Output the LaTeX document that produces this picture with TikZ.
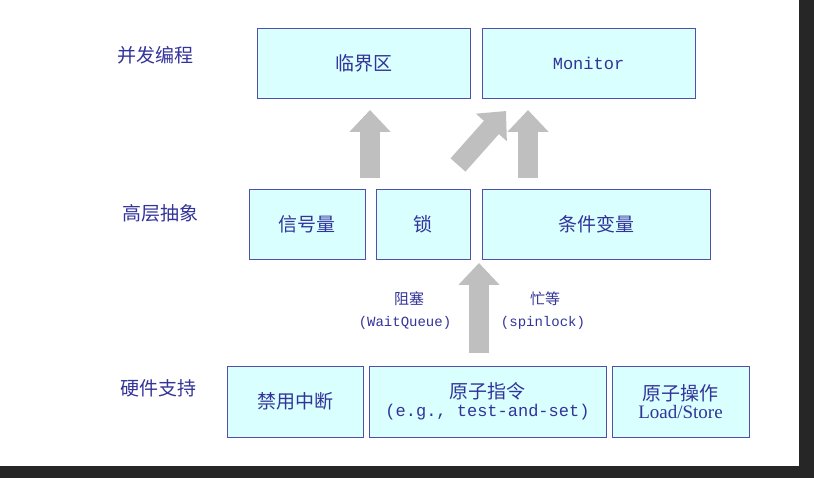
\documentclass[tikz,border=0pt]{standalone}
\usepackage{fontspec}
\setmainfont{Noto Sans CJK SC}
\newfontfamily\lat{Liberation Mono}
\newfontfamily\latser{Liberation Serif}
\usetikzlibrary{arrows.meta}
\definecolor{txt}{HTML}{33339A}
\definecolor{bfill}{HTML}{D9FFFF}
\definecolor{bdraw}{HTML}{5050A8}
\tikzset{
  box/.style={draw=bdraw,fill=bfill,line width=0.8pt,text=txt,font=\fontsize{19}{21}\selectfont,align=center,inner sep=0pt},
  lbl/.style={text=txt,font=\fontsize{19}{21}\selectfont},
  small/.style={text=txt,font=\fontsize{15}{17}\selectfont},
  bigarrow/.style={draw=black!25,line width=20pt,-{Triangle[width=40pt,length=22pt]}}
}
\begin{document}
\begin{tikzpicture}[x=1pt,y=-1pt]
\fill[white] (0,0) rectangle (814,478);
\useasboundingbox (0,0) rectangle (814,478);
\fill[black!85] (0,466) rectangle (814,478);
\fill[black!85] (799,0) rectangle (814,478);
% top row
\node[box,minimum width=213pt,minimum height=70pt] (crit) at (363.5,63) {临界区};
\node[box,minimum width=213pt,minimum height=70pt,font=\lat\fontsize{17}{19}\selectfont] (mon) at (588.5,63) {Monitor};
% middle
\node[box,minimum width=116pt,minimum height=70pt] (sem) at (307,224) {信号量};
\node[box,minimum width=94pt,minimum height=70pt] (lock) at (423,224) {锁};
\node[box,minimum width=228pt,minimum height=70pt] (cond) at (596,224) {条件变量};
% bottom
\node[box,minimum width=136pt,minimum height=71pt] (dis) at (295,401.5) {禁用中断};
\node[box,minimum width=237pt,minimum height=71pt] (atom) at (487.5,401.5) {原子指令\\[-3pt]{\lat\fontsize{17}{19}\selectfont (e.g.,\ test-and-set)}};
\node[box,minimum width=137pt,minimum height=71pt] (aop) at (680.5,401.5) {原子操作\\[-3pt]{\latser\fontsize{19}{21}\selectfont Load/Store}};
% row labels
\node[lbl] (l1) at (155,55) {并发编程};
\node[lbl] (l2) at (160,213) {高层抽象};
\node[lbl] (l3) at (158,388) {硬件支持};
% arrows
\coordinate (a1s) at (370,178); \coordinate (a1e) at (370,110);
\coordinate (a2s) at (458,165); \coordinate (a2e) at (506,111);
\coordinate (a3s) at (528,178); \coordinate (a3e) at (528,110);
\coordinate (a4s) at (479,353); \coordinate (a4e) at (479,263);
\draw[bigarrow] (a1s) -- (a1e);
\draw[bigarrow] (a2s) -- (a2e);
\draw[bigarrow] (a3s) -- (a3e);
\draw[bigarrow] (a4s) -- (a4e);
\node[small] (b1) at (409,299) {阻塞};
\node[small,font=\lat\fontsize{14}{16}\selectfont] (b2) at (405,323) {(WaitQueue)};
\node[small] (c1) at (545,299) {忙等};
\node[small,font=\lat\fontsize{14}{16}\selectfont] (c2) at (543,323) {(spinlock)};
\end{tikzpicture}
\end{document}
